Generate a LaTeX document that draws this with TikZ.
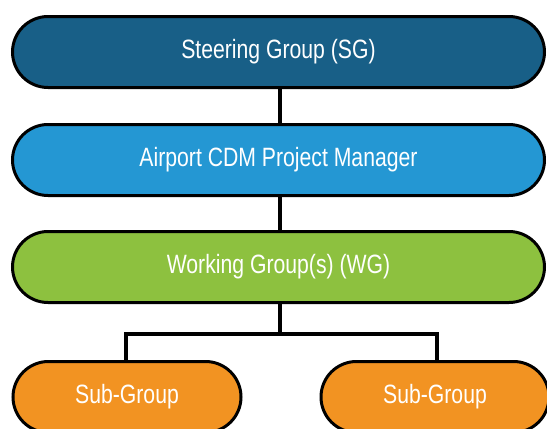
\documentclass[tikz,border=0pt]{standalone}
\usepackage{fontspec}
\setmainfont[FakeStretch=0.8]{Liberation Sans}
\usetikzlibrary{shapes.misc}
\definecolor{sgblue}{HTML}{185F87}
\definecolor{pmblue}{HTML}{2497D3}
\definecolor{wggreen}{HTML}{8DC13F}
\definecolor{suborange}{HTML}{F29322}
\tikzset{
  pill/.style={rounded rectangle, draw=black, line width=3pt, text=white,
    minimum height=71pt, font=\fontsize{26.5}{30}\selectfont, inner sep=0pt},
  wide/.style={pill, minimum width=532pt},
  sub/.style={pill, minimum width=228pt, fill=suborange},
  conn/.style={line width=4pt, line cap=rect}
}
\begin{document}
\begin{tikzpicture}[x=1pt,y=-1pt]
\useasboundingbox (0,0) rectangle (547,429);
\node[wide, fill=sgblue] (sg) at (278.5,52) {Steering Group (SG)};
\node[wide, fill=pmblue] (pm) at (278.5,160) {Airport CDM Project Manager};
\node[wide, fill=wggreen] (wg) at (278.5,267) {Working Group(s) (WG)};
\node[sub] (s1) at (127,397) {Sub-Group};
\node[sub] (s2) at (435,397) {Sub-Group};
\coordinate (hl) at (126,334);
\coordinate (hr) at (437,334);
\coordinate (hm) at (280,334);
\draw[line width=4pt] (sg.south -| hm) -- (pm.north -| hm);
\draw[line width=4pt] (pm.south -| hm) -- (wg.north -| hm);
\draw[line width=4pt] (wg.south -| hm) -- (hm);
\draw[conn] (s1.north -| hl) -- (hl) -- (hr) -- (s2.north -| hr);
\end{tikzpicture}
\end{document}
